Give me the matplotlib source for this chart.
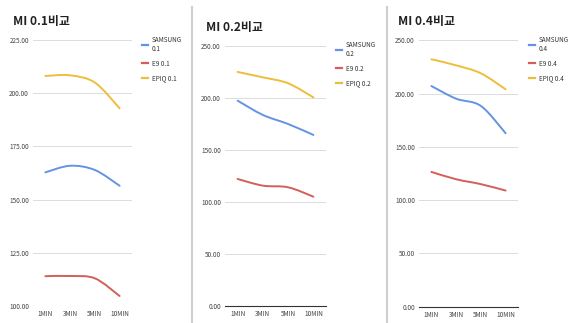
import numpy as np
import matplotlib
matplotlib.use("Agg")
import matplotlib.pyplot as plt
from matplotlib.path import Path
from matplotlib.patches import PathPatch
from matplotlib.lines import Line2D

plt.rcParams['font.family'] = ['Noto Sans CJK KR', 'DejaVu Sans']

# data
minutes = ["1MIN", "3MIN", "5MIN", "10MIN"]

samsung_01 = [162.8, 165.9, 163.9, 156.5]
e9_01 = [114.0, 114.1, 113.0, 104.7]
epiq_01 = [208.1, 208.4, 205.0, 192.9]

samsung_02 = [197.2, 183.5, 174.8, 164.3]
e9_02 = [122.0, 115.6, 114.0, 105.0]
epiq_02 = [224.8, 219.6, 213.9, 200.4]

samsung_04 = [207.1, 195.2, 188.4, 162.8]
e9_04 = [126.5, 119.6, 115.0, 109.0]
epiq_04 = [232.2, 226.5, 219.0, 204.0]

BLUE, RED, YELLOW = "#6493e4", "#d35f57", "#eebd3c"
W, H = 570, 323


def smooth_path(xs, ys):
    # catmull-rom style smoothing turned into cubic bezier segments
    pts = np.column_stack([xs, ys]).astype(float)
    n = len(pts)
    verts = [pts[0]]
    codes = [Path.MOVETO]
    for i in range(n - 1):
        p0 = pts[max(i - 1, 0)]
        p1 = pts[i]
        p2 = pts[i + 1]
        p3 = pts[min(i + 2, n - 1)]
        c1 = p1 + (p2 - p0) / 6.0
        c2 = p2 - (p3 - p1) / 6.0
        verts += [c1, c2, p2]
        codes += [Path.CURVE4] * 3
    return Path(verts, codes)


def panel(rect_px, title, title_px, yticks, series, labels, baseline, leg_px):
    x0, x1, ytop, ybot = rect_px
    ax = fig.add_axes([x0 / W, 1 - ybot / H, (x1 - x0) / W, (ybot - ytop) / H])
    xs = np.arange(len(minutes))
    for ys, col in zip(series, [BLUE, RED, YELLOW]):
        ax.add_patch(PathPatch(smooth_path(xs, ys), fill=False, edgecolor=col,
                               lw=1.4, capstyle="round"))
    ax.set_xlim(-0.5, 3.5)
    ax.set_ylim(yticks[0], yticks[-1])
    ax.set_yticks(yticks)
    ax.set_yticklabels([f"{v:.2f}" for v in yticks])
    ax.set_xticks(xs)
    ax.set_xticklabels(minutes)
    ax.tick_params(length=0, labelsize=4.6, colors="#444444", pad=3)
    ax.grid(axis="y", color="#dcdcdc", lw=0.7)
    ax.set_axisbelow(True)
    for s in ["top", "right", "left"]:
        ax.spines[s].set_visible(False)
    if baseline:
        ax.spines["bottom"].set_color("#333333")
        ax.spines["bottom"].set_linewidth(0.8)
    else:
        ax.spines["bottom"].set_visible(False)
    fig.text(title_px[0] / W, 1 - title_px[1] / H, title, fontsize=8.6,
             fontweight="bold", color="#222222", va="center", ha="left")
    handles = [Line2D([], [], color=c, lw=1.6) for c in [BLUE, RED, YELLOW]]
    fig.legend(handles, labels, loc="upper left",
               bbox_to_anchor=(leg_px[0] / W, 1 - leg_px[1] / H),
               frameon=False, fontsize=4.6, handlelength=0.9, handletextpad=0.6,
               labelspacing=1.0, borderaxespad=0, borderpad=0,
               labelcolor="#333333")
    return ax


fig = plt.figure(figsize=(W / 100, H / 100), dpi=100)

panel((33, 132, 40, 306), "MI 0.1비교", (13, 21.5),
      [100, 125, 150, 175, 200, 225], [samsung_01, e9_01, epiq_01],
      ["SAMSUNG\n0.1", "E9 0.1", "EPIQ 0.1"], False, (142, 36))
panel((225, 326, 45.7, 306), "MI 0.2비교", (206, 27),
      [0, 50, 100, 150, 200, 250], [samsung_02, e9_02, epiq_02],
      ["SAMSUNG\n0.2", "E9 0.2", "EPIQ 0.2"], True, (336, 41))
panel((419, 518, 40.3, 306.7), "MI 0.4비교", (398, 21.5),
      [0, 50, 100, 150, 200, 250], [samsung_04, e9_04, epiq_04],
      ["SAMSUNG\n0.4", "E9 0.4", "EPIQ 0.4"], True, (529, 36))

# panel separators
for xp in (192, 387):
    fig.add_artist(Line2D([xp / W, xp / W], [0, 1 - 7 / H], color="#cfcfcf", lw=1.5))

fig.savefig("out.png", dpi=100)
